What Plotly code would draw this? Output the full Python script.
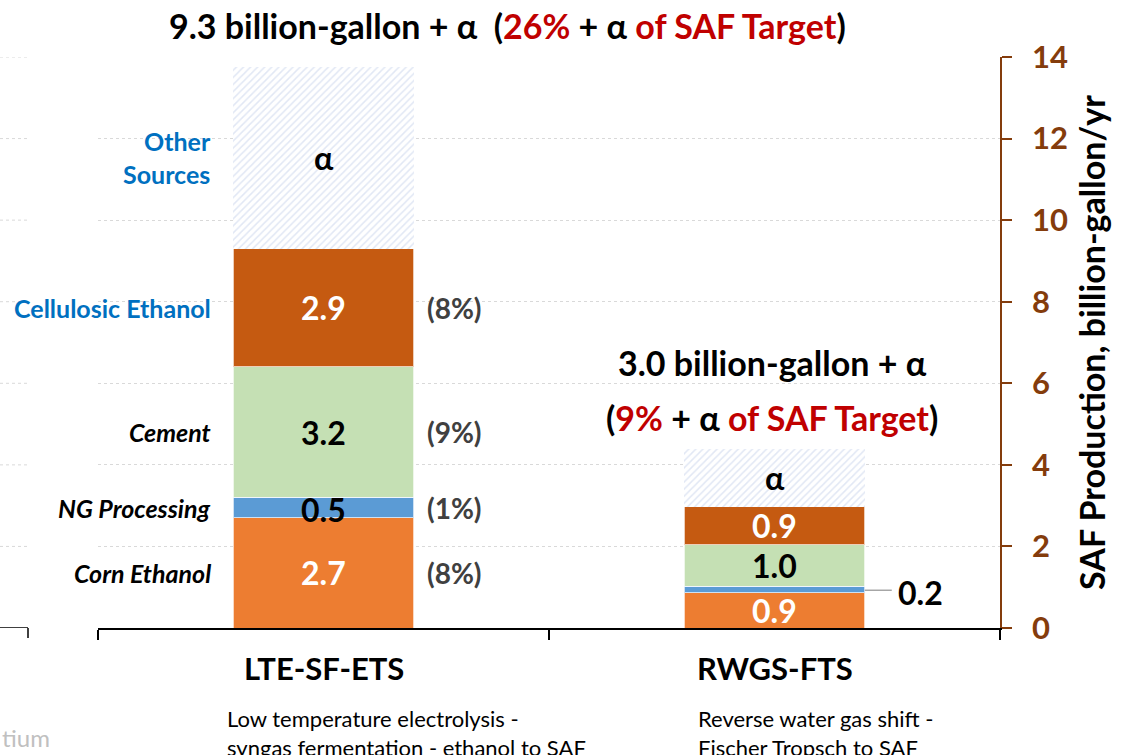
import plotly.graph_objects as go

# ---------------- data ----------------
categories = ["LTE-SF-ETS", "RWGS-FTS"]
series_names = ["Corn Ethanol", "NG Processing", "Cement", "Cellulosic Ethanol", "Other Sources"]
corn_ethanol = [2.7, 0.87]
ng_processing = [0.5, 0.15]
cement = [3.2, 1.02]
cellulosic_ethanol = [2.9, 0.93]
other_sources = [4.45, 1.42]   # "alpha" (undetermined extra)

seg_labels = {
    "Corn Ethanol": ["2.7", "0.9"],
    "NG Processing": ["0.5", None],
    "Cement": ["3.2", "1.0"],
    "Cellulosic Ethanol": ["2.9", "0.9"],
    "Other Sources": ["α", "α"],
}
pct_labels = {
    "Corn Ethanol": "(8%)",
    "NG Processing": "(1%)",
    "Cement": "(9%)",
    "Cellulosic Ethanol": "(8%)",
}
left_labels = {
    "Other Sources": "Other<br>Sources",
    "Cellulosic Ethanol": "Cellulosic Ethanol",
    "Cement": "<i>Cement</i>",
    "NG Processing": "<i>NG Processing</i>",
    "Corn Ethanol": "<i>Corn Ethanol</i>",
}
subtitles = ["Low temperature electrolysis -<br>syngas fermentation - ethanol to SAF",
             "Reverse water gas shift -<br>Fischer Tropsch to SAF"]
y_ticks = [0, 2, 4, 6, 8, 10, 12, 14]

values = [corn_ethanol, ng_processing, cement, cellulosic_ethanol, other_sources]

FONT = "Lato"
colors = {
    "Corn Ethanol": "#ED7D31",
    "NG Processing": "#5B9BD5",
    "Cement": "#C5E0B4",
    "Cellulosic Ethanol": "#C55A11",
}
label_colors = {
    "Corn Ethanol": "white",
    "NG Processing": "black",
    "Cement": "black",
    "Cellulosic Ethanol": "white",
    "Other Sources": "black",
}
left_colors = {
    "Other Sources": "#0070C0",
    "Cellulosic Ethanol": "#0070C0",
    "Cement": "black",
    "NG Processing": "black",
    "Corn Ethanol": "black",
}
BROWN = "#843C0C"
RED = "#C00000"

fig = go.Figure()
for name, vals in zip(series_names, values):
    if name == "Other Sources":
        marker = dict(color="white",
                      pattern=dict(shape="/", fgcolor="#C4D0EA", bgcolor="white",
                                   size=5, solidity=0.3),
                      line=dict(width=0))
    else:
        marker = dict(color=colors[name], line=dict(color="rgba(255,255,255,0.7)", width=1))
    fig.add_trace(go.Bar(x=categories, y=vals, name=name, marker=marker,
                         showlegend=False, hoverinfo="skip"))

annotations = []
# segment labels, percents, left labels
for ci, cat in enumerate(categories):
    base = 0.0
    for name, vals in zip(series_names, values):
        v = vals[ci]
        mid = base + v / 2
        txt = seg_labels[name][ci]
        if txt:
            annotations.append(dict(x=ci, y=mid, xref="x", yref="y", text="<b>" + txt + "</b>", showarrow=False,
                                    yanchor="middle",
                                    font=dict(family=FONT, size=32, color=label_colors[name]),
                                    yshift=-2 if name == "NG Processing" else 0))
        if ci == 0:
            if name in pct_labels:
                annotations.append(dict(x=ci + 0.226, y=mid, xref="x", yref="y", text="<b>" + pct_labels[name] + "</b>",
                                        showarrow=False, xanchor="left", yanchor="middle",
                                        font=dict(family=FONT, size=28, color="#404040")))
            annotations.append(dict(x=ci - 0.245, y=mid, xref="x", yref="y", text="<b>" + left_labels[name] + "</b>",
                                    showarrow=False, xanchor="right", yanchor="middle", align="right",
                                    font=dict(family=FONT, size=25, color=left_colors[name])))
        base += v

# 0.2 label with leader line for RWGS NG segment
ng_mid = corn_ethanol[1] + ng_processing[1] / 2
fig.add_shape(type="line", xref="x", yref="y", x0=1.2, x1=1.26, y0=ng_mid - 0.02, y1=ng_mid - 0.02,
              line=dict(color="#A6A6A6", width=1.5))
annotations.append(dict(x=1.27, y=ng_mid - 0.08, xref="x", yref="y", text="<b>0.2</b>", showarrow=False,
                        xanchor="left", yanchor="middle", font=dict(family=FONT, size=32, color="black")))

# RWGS total annotation
annotations.append(dict(x=0.995, y=6.52, xref="x", yref="y", text="<b>3.0 billion-gallon + α</b>",
                        showarrow=False, yanchor="middle", font=dict(family=FONT, size=34, color="black")))
annotations.append(dict(x=0.995, y=5.17, xref="x", yref="y",
                        text="<b>(<span style='color:%s'>9%%</span> + α <span style='color:%s'>of SAF Target</span>)</b>" % (RED, RED),
                        showarrow=False, yanchor="middle", font=dict(family=FONT, size=34, color="black")))

# Main title
annotations.append(dict(x=(507 - 98) / 902, y=(628 - 25) / 571, xref="paper", yref="paper",
                        xanchor="center", yanchor="middle",
                        text="<b>9.3 billion-gallon + α&nbsp;&nbsp;(<span style='color:%s'>26%%</span> + α <span style='color:%s'>of SAF Target</span>)</b>" % (RED, RED),
                        showarrow=False, font=dict(family=FONT, size=34, color="black")))

# category labels and subtitles
for ci, cat in enumerate(categories):
    annotations.append(dict(x=ci, y=(628 - 668) / 571, xref="x", yref="paper", text="<b>" + cat + "</b>",
                            showarrow=False, yanchor="middle",
                            font=dict(family=FONT, size=31, color="black")))
annotations.append(dict(x=(225 - 323) / 450, y=(628 - 703) / 571, xref="x", yref="paper", text=subtitles[0],
                        showarrow=False, xanchor="left", yanchor="top", align="left",
                        font=dict(family=FONT, size=22, color="black")))
annotations.append(dict(x=1 + (695 - 773) / 450, y=(628 - 703) / 571, xref="x", yref="paper", text=subtitles[1],
                        showarrow=False, xanchor="left", yanchor="top", align="left",
                        font=dict(family=FONT, size=22, color="black")))

# faint cropped footer text
annotations.append(dict(x=(0 - 98) / 902, y=(628 - 737) / 571, xref="paper", yref="paper", text="tium",
                        showarrow=False, xanchor="left", yanchor="middle",
                        font=dict(family=FONT, size=24, color="#C0C0C0")))

# left fragment of neighbouring chart (cropped) : axis line + tick + gridlines
left_x0 = (0 - 98) / 902
left_x1 = (28 - 98) / 902
fig.add_shape(type="line", xref="paper", yref="y", x0=left_x0, x1=left_x1, y0=0, y1=0,
              line=dict(color="black", width=1.5))
fig.add_shape(type="line", xref="paper", yref="paper", x0=left_x1, x1=left_x1, y0=0, y1=-10 / 571,
              line=dict(color="black", width=1.5))
for t in y_ticks[1:]:
    fig.add_shape(type="line", xref="paper", yref="y", x0=left_x0, x1=(27 - 98) / 902, y0=t, y1=t,
                  line=dict(color="#D9D9D9", width=1, dash="dot"))

fig.update_layout(
    width=1132, height=755,
    margin=dict(l=98, r=132, t=57, b=127),
    paper_bgcolor="white", plot_bgcolor="white",
    barmode="stack", bargap=0.6,
    font=dict(family=FONT),
    annotations=annotations,
    xaxis=dict(type="category", showline=True, linecolor="black", linewidth=1.5,
               ticks="outside", tickson="boundaries", ticklen=10, tickcolor="black", tickwidth=1.5,
               showticklabels=False, showgrid=False, range=[-0.5, 1.5], fixedrange=True),
    yaxis=dict(side="right", range=[0, 14], tickvals=y_ticks, showline=True, linecolor=BROWN, linewidth=1.5,
               ticks="outside", ticklen=10, tickcolor=BROWN, tickwidth=1.5,
               tickfont=dict(family=FONT, size=31, color=BROWN, weight="bold"),
               ticklabelstandoff=14, fixedrange=True,
               showgrid=True, gridcolor="#D9D9D9", griddash="dot", gridwidth=1,
               zeroline=False,
               title=dict(text="<b>SAF Production, billion-gallon/yr</b>",
                          font=dict(family=FONT, size=34, color="black"), standoff=14)),
)

fig.write_html("out.html", config={"displayModeBar": False},
               post_script="document.body.style.margin='0px';")
